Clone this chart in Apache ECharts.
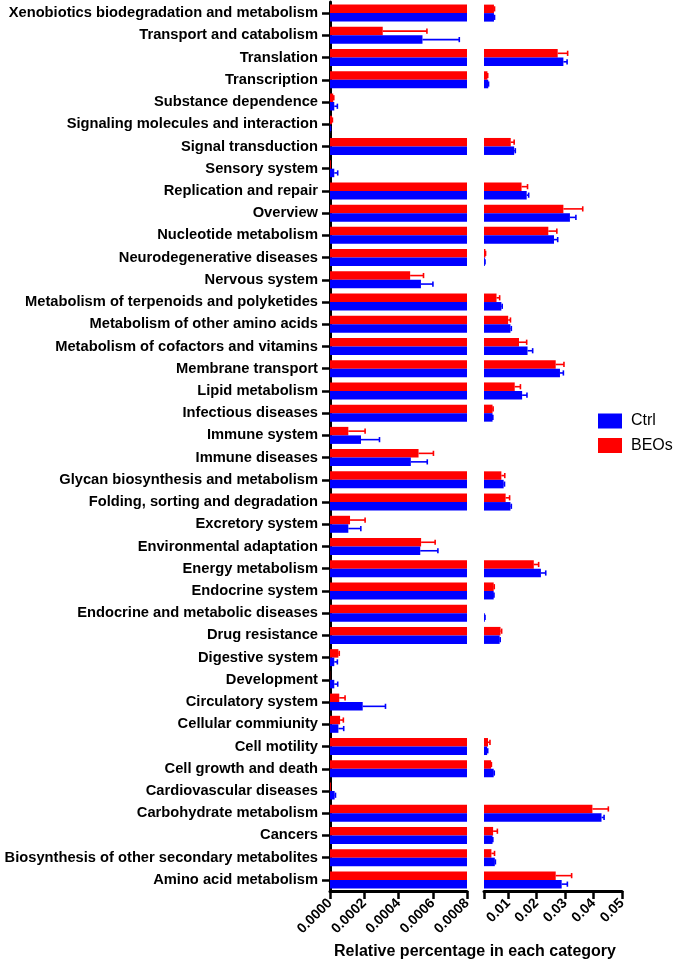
<!DOCTYPE html>
<html>
<head>
<meta charset="utf-8">
<script src="https://cdn.jsdelivr.net/npm/echarts@6/dist/echarts.min.js"></script>
<style>
html,body{margin:0;padding:0;background:#fff;}
#chart{width:675px;height:968px;}
</style>
</head>
<body>
<div id="chart"></div>
<script>
const categories = [
  "Xenobiotics biodegradation and metabolism",
  "Transport and catabolism",
  "Translation",
  "Transcription",
  "Substance dependence",
  "Signaling molecules and interaction",
  "Signal transduction",
  "Sensory system",
  "Replication and repair",
  "Overview",
  "Nucleotide metabolism",
  "Neurodegenerative diseases",
  "Nervous system",
  "Metabolism of terpenoids and polyketides",
  "Metabolism of other amino acids",
  "Metabolism of cofactors and vitamins",
  "Membrane transport",
  "Lipid metabolism",
  "Infectious diseases",
  "Immune system",
  "Immune diseases",
  "Glycan biosynthesis and metabolism",
  "Folding, sorting and degradation",
  "Excretory system",
  "Environmental adaptation",
  "Energy metabolism",
  "Endocrine system",
  "Endocrine and metabolic diseases",
  "Drug resistance",
  "Digestive system",
  "Development",
  "Circulatory system",
  "Cellular commiunity",
  "Cell motility",
  "Cell growth and death",
  "Cardiovascular diseases",
  "Carbohydrate metabolism",
  "Cancers",
  "Biosynthesis of other secondary metabolites",
  "Amino acid metabolism"
];

const beosMean = [0.0050,0.000308,0.0274,0.0027,0.000019,0.000012,0.0109,0.000005,0.0147,0.0294,
  0.0241,0.0020,0.000468,0.0059,0.0100,0.0138,0.0267,0.0123,0.0045,0.000107,
  0.000517,0.0076,0.0091,0.000117,0.000532,0.0190,0.0049,0.0012,0.0073,0.000049,
  0.000001,0.000054,0.000059,0.0029,0.0040,0.000005,0.0396,0.0047,0.0041,0.0267];
const beosErr = [0.0002,0.000258,0.0035,0.0001,0.000003,0.000002,0.0012,0,0.0021,0.0068,
  0.0030,0.00005,0.000078,0.0011,0.0008,0.0027,0.0029,0.0020,0.0002,0.000098,
  0.000087,0.0012,0.0014,0.000088,0.000082,0.0017,0.0002,0.0001,0.0004,0.000005,
  0,0.000034,0.000019,0.0007,0.0001,0,0.0056,0.0015,0.0011,0.0056];
const ctrlMean = [0.0050,0.00054,0.0294,0.0030,0.000025,0.000002,0.0121,0.000025,0.0165,0.0317,
  0.0261,0.0018,0.000531,0.0076,0.0108,0.0168,0.0282,0.0149,0.0045,0.000181,
  0.000472,0.0084,0.0108,0.000107,0.000527,0.0215,0.0049,0.0018,0.0070,0.000025,
  0.000025,0.000191,0.000049,0.0026,0.0049,0.000027,0.0428,0.0045,0.0053,0.0288];
const ctrlErr = [0.0002,0.000215,0.0013,0.0001,0.000018,0.000001,0.0004,0.00002,0.0007,0.0021,
  0.0013,0.00005,0.00007,0.0003,0.0003,0.0018,0.0012,0.0017,0.0001,0.000108,
  0.000096,0.0003,0.0003,0.000073,0.000103,0.0017,0.0001,0.00005,0.0002,0.000018,
  0.00002,0.000133,0.000031,0.0002,0.0002,0.000005,0.0009,0.0001,0.0002,0.0020];

const leftTicks = [0, 0.0002, 0.0004, 0.0006, 0.0008];
const rightTicks = [0.01, 0.02, 0.03, 0.04, 0.05];

const LEFT_MAX = 0.0008;
const RIGHT_MIN = 0.0015;
const RIGHT_MAX = 0.05;

const FONT = '"Liberation Sans", Arial, Helvetica, sans-serif';
const RED = '#ff0000', BLUE = '#0000ff';
const BAR_W = 8.5;

function errData(mean, err) {
  return mean.map((m, i) => [i, m, err[i]]);
}

function makeErr(gridIdx, mean, err, color, offset) {
  return {
    type: 'custom',
    xAxisIndex: gridIdx, yAxisIndex: gridIdx,
    silent: true, clip: true, z: 5,
    encode: {x: 1, y: 0},
    data: errData(mean, err),
    renderItem: function (params, api) {
      const idx = api.value(0), m = api.value(1), e = api.value(2);
      if (gridIdx === 0 && m > LEFT_MAX) return null;
      if (gridIdx === 1 && m < RIGHT_MIN) return null;
      if (!(e > 0)) return null;
      const p0 = api.coord([m, idx]);
      const p1 = api.coord([m + e, idx]);
      const y = p0[1] + offset;
      return {
        type: 'group',
        children: [
          {type: 'line', shape: {x1: p0[0], y1: y, x2: p1[0], y2: y}, style: {stroke: color, lineWidth: 1.6}},
          {type: 'line', shape: {x1: p1[0], y1: y - 2.6, x2: p1[0], y2: y + 2.6}, style: {stroke: color, lineWidth: 1.6}}
        ]
      };
    }
  };
}

function barSeries(name, gridIdx, data, color) {
  return {
    name: name, type: 'bar',
    xAxisIndex: gridIdx, yAxisIndex: gridIdx,
    data: data, barWidth: BAR_W, barGap: '0%',
    clip: true,
    itemStyle: {color: color},
    emphasis: {disabled: true}
  };
}

const chart = echarts.init(document.getElementById('chart'));
const option = {
  animation: false,
  backgroundColor: '#fff',
  textStyle: {fontFamily: FONT},
  grid: [
    {left: 330, top: 2, width: 137, height: 889, containLabel: false, outerBoundsMode: 'none'},
    {left: 484, top: 2, width: 138, height: 889, containLabel: false, outerBoundsMode: 'none'}
  ],
  legend: {
    data: ['Ctrl', 'BEOs'],
    orient: 'vertical',
    left: 598, top: 413,
    padding: 0,
    itemWidth: 24, itemHeight: 15, itemGap: 8.5,
    icon: 'rect',
    textStyle: {fontFamily: FONT, fontSize: 16, color: '#000', padding: [0, 0, 0, 4]}
  },
  xAxis: [
    {
      type: 'value', gridIndex: 0, min: 0, max: LEFT_MAX, interval: 0.0002,
      splitLine: {show: false},
      axisLine: {show: true, lineStyle: {color: '#000', width: 3}},
      axisTick: {show: true, length: 8, lineStyle: {color: '#000', width: 2.5}},
      axisLabel: {
        rotate: 45, margin: 10, color: '#000', fontWeight: 'bold', fontSize: 14, fontFamily: FONT,
        customValues: leftTicks,
        formatter: v => v.toFixed(4)
      }
    },
    {
      type: 'value', gridIndex: 1, min: RIGHT_MIN, max: RIGHT_MAX,
      splitLine: {show: false},
      axisLine: {show: true, lineStyle: {color: '#000', width: 3}},
      axisTick: {show: true, length: 8, lineStyle: {color: '#000', width: 2.5}, customValues: [RIGHT_MIN].concat(rightTicks)},
      axisLabel: {
        rotate: 45, margin: 10, color: '#000', fontWeight: 'bold', fontSize: 14, fontFamily: FONT,
        customValues: rightTicks,
        formatter: v => v.toFixed(2)
      }
    }
  ],
  yAxis: [
    {
      type: 'category', gridIndex: 0, data: categories, inverse: true,
      axisLine: {show: true, lineStyle: {color: '#000', width: 3}},
      axisTick: {show: true, alignWithLabel: true, length: 8, lineStyle: {color: '#000', width: 2.5}},
      axisLabel: {color: '#000', fontWeight: 'bold', fontSize: 14.7, fontFamily: FONT, margin: 12, interval: 0}
    },
    {
      type: 'category', gridIndex: 1, data: categories, inverse: true,
      show: false
    }
  ],
  graphic: [
    {
      type: 'text', x: 475, y: 952,
      style: {
        text: 'Relative percentage in each category',
        font: 'bold 16px ' + FONT, fill: '#000',
        textAlign: 'center', textVerticalAlign: 'middle'
      }
    }
  ],
  series: [
    barSeries('BEOs', 0, beosMean, RED),
    barSeries('Ctrl', 0, ctrlMean, BLUE),
    barSeries('BEOs', 1, beosMean, RED),
    barSeries('Ctrl', 1, ctrlMean, BLUE),
    makeErr(0, beosMean, beosErr, RED, -BAR_W / 2),
    makeErr(0, ctrlMean, ctrlErr, BLUE, BAR_W / 2),
    makeErr(1, beosMean, beosErr, RED, -BAR_W / 2),
    makeErr(1, ctrlMean, ctrlErr, BLUE, BAR_W / 2)
  ]
};
chart.setOption(option);
</script>
</body>
</html>
